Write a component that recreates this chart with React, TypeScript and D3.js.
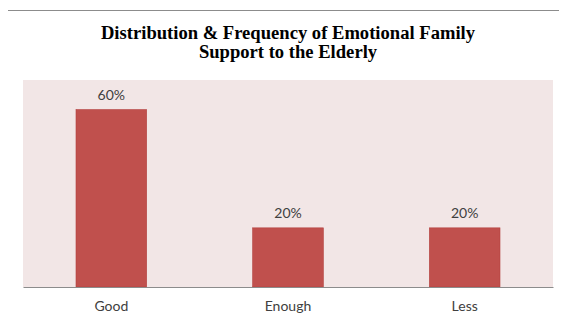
import React, { useEffect, useRef } from 'react';
import * as d3 from 'd3';

const categories = ['Good', 'Enough', 'Less'];
const percentages = [60, 20, 20];
const titleLines = ['Distribution & Frequency of Emotional Family', 'Support to the Elderly'];

export default function App() {
  const svgRef = useRef<SVGSVGElement>(null);

  useEffect(() => {
    if (!svgRef.current) return;
    const width = 567;
    const height = 320;

    const svg = d3.select(svgRef.current);
    svg.selectAll('*').remove();
    svg.attr('width', width).attr('height', height);

    // Outer chart frame (only top and left edges visible)
    svg.append('line')
      .attr('x1', 6.5).attr('x2', width).attr('y1', 10.5).attr('y2', 10.5)
      .attr('stroke', '#8c8c8c').attr('stroke-width', 1);
    svg.append('line')
      .attr('x1', 6.5).attr('x2', 6.5).attr('y1', 10.5).attr('y2', height)
      .attr('stroke', '#8c8c8c').attr('stroke-width', 1);

    const margin = { top: 80, left: 23, right: 14, bottom: 33 };
    const innerWidth = width - margin.left - margin.right;
    const innerHeight = height - margin.top - margin.bottom;

    const g = svg.append('g')
      .attr('transform', `translate(${margin.left},${margin.top})`);

    // Plot area background
    g.append('rect')
      .attr('width', innerWidth)
      .attr('height', innerHeight)
      .attr('fill', '#f2e6e6');

    const x = d3.scaleBand()
      .domain(categories)
      .range([0, innerWidth])
      .paddingInner(0.6)
      .paddingOuter(0.3);

    const y = d3.scaleLinear()
      .domain([0, 70])
      .range([innerHeight, 0]);

    // Bars
    g.selectAll('rect.bar')
      .data(categories)
      .join('rect')
      .attr('class', 'bar')
      .attr('x', d => x(d)!)
      .attr('y', (d, i) => y(percentages[i]))
      .attr('width', x.bandwidth())
      .attr('height', (d, i) => y(0) - y(percentages[i]))
      .attr('fill', '#c0504d')
      .attr('stroke', '#b3413f')
      .attr('stroke-width', 0.6);

    // Data labels
    g.selectAll('text.label')
      .data(categories)
      .join('text')
      .attr('class', 'label')
      .attr('x', d => x(d)! + x.bandwidth() / 2)
      .attr('y', (d, i) => y(percentages[i]) - 10)
      .attr('text-anchor', 'middle')
      .attr('font-family', 'Lato, "Liberation Sans", sans-serif')
      .attr('font-size', '14px')
      .attr('fill', '#404040')
      .text((d, i) => `${percentages[i]}%`);

    // X axis
    const xAxis = g.append('g')
      .attr('transform', `translate(0,${innerHeight})`)
      .call(d3.axisBottom(x).tickSize(0).tickPadding(14));
    xAxis.select('.domain').attr('stroke', '#8c8c8c').attr('stroke-width', 1.2);
    xAxis.selectAll('text')
      .attr('font-family', 'Lato, "Liberation Sans", sans-serif')
      .attr('font-size', '14px')
      .attr('fill', '#404040');

    // Title
    svg.append('g')
      .selectAll('text')
      .data(titleLines)
      .join('text')
      .attr('x', margin.left + innerWidth / 2)
      .attr('y', (d, i) => 39 + i * 19)
      .attr('text-anchor', 'middle')
      .attr('font-family', '"Liberation Serif", "Times New Roman", serif')
      .attr('font-weight', 'bold')
      .attr('font-size', '18.6px')
      .attr('fill', '#000')
      .text(d => d);
  }, []);

  return (
    <div style={{ margin: -8 }}>
      <svg ref={svgRef}></svg>
    </div>
  );
}
